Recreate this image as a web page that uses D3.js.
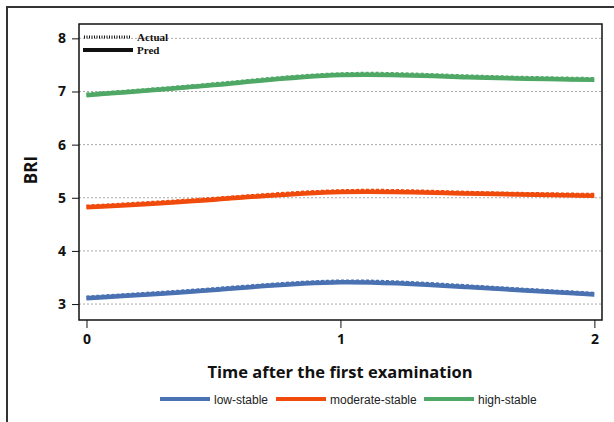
<!DOCTYPE html>
<html><head><meta charset="utf-8">
<script src="https://cdn.jsdelivr.net/npm/d3@7"></script>
<style>body{margin:0;background:#fff}svg{display:block}</style>
</head><body>
<svg id="c" width="614" height="422"></svg>
<script>
const times = [0, 0.5, 1, 1.5, 2];
const groups = ["low-stable", "moderate-stable", "high-stable"];
const colors = ["#4a72b2", "#f04b0c", "#4fa865"];
const predLow = [3.11, 3.265, 3.41, 3.32, 3.18];
const predModerate = [4.82, 4.965, 5.11, 5.08, 5.04];
const predHigh = [6.93, 7.12, 7.31, 7.27, 7.22];
const actualLow = [3.12, 3.275, 3.42, 3.33, 3.19];
const actualModerate = [4.83, 4.975, 5.12, 5.09, 5.05];
const actualHigh = [6.94, 7.13, 7.32, 7.28, 7.23];
const yTicks = [3, 4, 5, 6, 7, 8];
const xTicks = [0, 1, 2];

const svg = d3.select("#c");
const L = 79, T = 24, R = 602, B = 320;
const x = d3.scaleLinear().domain([-0.0295, 2.03]).range([L, R]);
const y = d3.scaleLinear().domain([2.70, 8.27]).range([B, T]);

svg.append("path").attr("d", "M7,422 V7 H614").attr("fill", "none").attr("stroke", "#333").attr("stroke-width", 2);

svg.append("g").selectAll("line").data(yTicks).join("line")
  .attr("x1", L).attr("x2", R).attr("y1", d => y(d)).attr("y2", d => y(d))
  .attr("stroke", "#aaa").attr("stroke-width", 1).attr("stroke-dasharray", "2,2");

svg.append("rect").attr("x", L).attr("y", T).attr("width", R - L).attr("height", B - T)
  .attr("fill", "none").attr("stroke", "#111").attr("stroke-width", 1.5);

const ya = svg.append("g").attr("transform", `translate(${L},0)`)
  .call(d3.axisLeft(y).tickValues(yTicks).tickSize(7).tickPadding(6).tickFormat(d3.format("d")));
ya.select(".domain").remove();
ya.selectAll("line").attr("stroke", "#111");
ya.selectAll("text").attr("font-family", "Open Sans, Liberation Sans, sans-serif").attr("font-weight", "bold").attr("font-size", 14).attr("fill", "#111");

const xa = svg.append("g").attr("transform", `translate(0,${B})`)
  .call(d3.axisBottom(x).tickValues(xTicks).tickSize(8).tickPadding(6).tickFormat(d3.format("d")));
xa.select(".domain").remove();
xa.selectAll("line").attr("stroke", "#111");
xa.selectAll("text").attr("font-family", "Open Sans, Liberation Sans, sans-serif").attr("font-weight", "bold").attr("font-size", 14).attr("fill", "#111");

svg.append("text").attr("x", 340).attr("y", 378).attr("text-anchor", "middle")
  .attr("font-family", "Open Sans, Liberation Sans, sans-serif").attr("font-weight", "bold").attr("font-size", 16.5)
  .attr("fill", "#111").text("Time after the first examination");
svg.append("text").attr("transform", "translate(37,170) rotate(-90)").attr("text-anchor", "middle")
  .attr("font-family", "Open Sans, Liberation Sans, sans-serif").attr("font-weight", "bold").attr("font-size", 17)
  .attr("fill", "#111").text("BRI");

const line = d3.line().x((d, i) => x(times[i])).y(d => y(d)).curve(d3.curveNatural);
const preds = [predLow, predModerate, predHigh];
const actuals = [actualLow, actualModerate, actualHigh];
preds.forEach((p, k) => {
  svg.append("path").attr("d", line(p)).attr("fill", "none").attr("stroke", colors[k]).attr("stroke-width", 4.5);
  svg.append("path").attr("d", line(actuals[k])).attr("fill", "none").attr("stroke", colors[k]).attr("stroke-width", 4.5)
    .attr("stroke-dasharray", "3,2");
});

svg.append("line").attr("x1", 84).attr("x2", 130).attr("y1", 37).attr("y2", 37).attr("stroke", "#111").attr("stroke-width", 3).attr("stroke-dasharray", "1,1.5");
svg.append("text").attr("x", 137).attr("y", 41).attr("font-family", "Liberation Serif, serif").attr("font-weight", "bold").attr("font-size", 11).attr("fill", "#111").text("Actual");
svg.append("line").attr("x1", 83).attr("x2", 133).attr("y1", 50).attr("y2", 50).attr("stroke", "#111").attr("stroke-width", 4);
svg.append("text").attr("x", 137).attr("y", 54).attr("font-family", "Liberation Serif, serif").attr("font-weight", "bold").attr("font-size", 11).attr("fill", "#111").text("Pred");

const lgX = [160, 276, 424];
groups.forEach((g, k) => {
  svg.append("line").attr("x1", lgX[k]).attr("x2", lgX[k] + 50).attr("y1", 399).attr("y2", 399).attr("stroke", colors[k]).attr("stroke-width", 4);
  svg.append("text").attr("x", lgX[k] + 54).attr("y", 403.5).attr("font-family", "Liberation Sans, Arial, sans-serif").attr("font-size", 12).attr("fill", "#222").text(g);
});
</script>
</body></html>
